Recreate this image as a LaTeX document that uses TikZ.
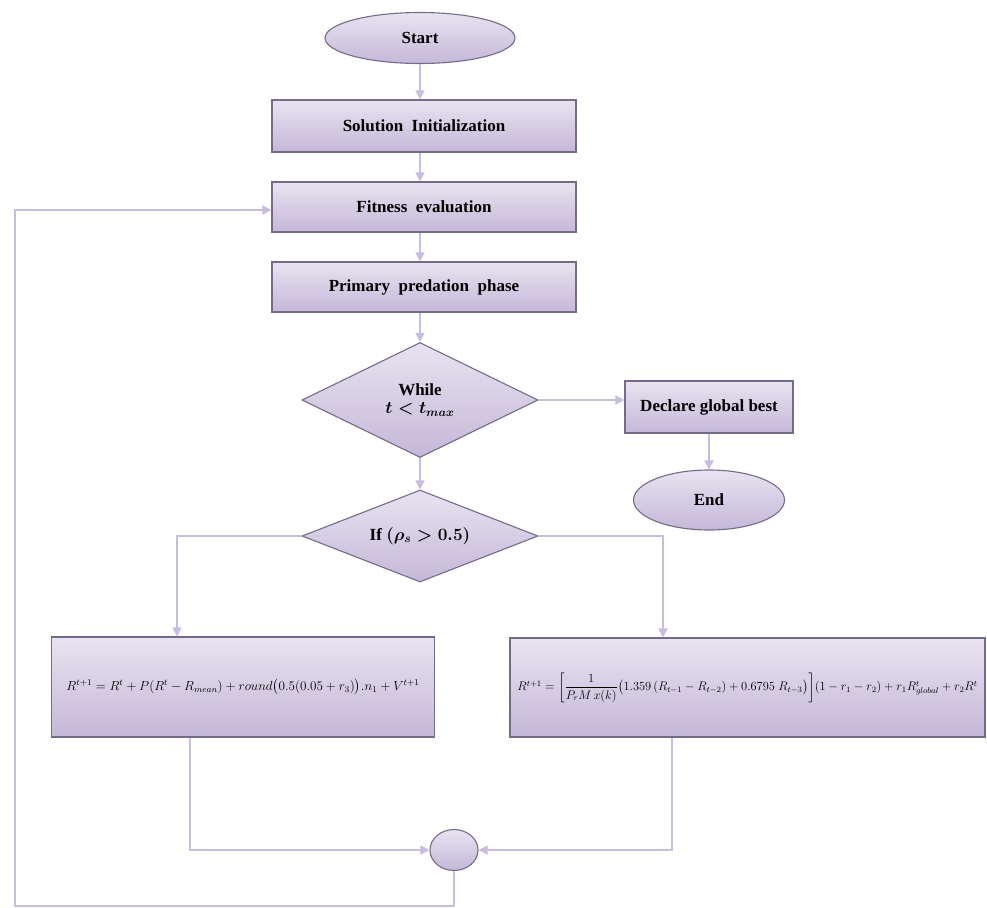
\documentclass[tikz,border=0pt]{standalone}
\usepackage{amsmath,amssymb}
\usepackage{fontspec}
\setmainfont{Liberation Serif}
\usepackage{tikz}
\usetikzlibrary{shapes.geometric,arrows.meta,positioning}
\definecolor{lavtop}{RGB}{232,227,240}
\definecolor{lavbot}{RGB}{196,184,216}
\definecolor{lavedge}{RGB}{118,106,138}
\definecolor{lavline}{RGB}{200,188,224}

\begin{document}
\begin{tikzpicture}[x=1pt,y=-1pt,
  shade/.style={top color=lavtop, bottom color=lavbot, draw=lavedge, line width=1.1pt},
  procbox/.style={shade, rectangle, inner sep=0pt, font=\fontsize{17}{20}\selectfont\bfseries},
  termnode/.style={shade, ellipse, inner sep=0pt, font=\fontsize{17}{20}\selectfont\bfseries},
  decide/.style={shade, diamond, inner sep=0pt, align=center, font=\fontsize{17}{20}\selectfont\bfseries\boldmath},
  mathbox/.style={procbox, font=\fontsize{12}{14}\selectfont},
  link/.style={draw=lavline, line width=1.6pt, -{Triangle[length=9pt,width=9pt]}}]
\useasboundingbox (0,0) rectangle (987,907);
\node[termnode, minimum width=190pt, minimum height=51pt] (start) at (420,38) {Start};
\node[procbox, minimum width=304pt, minimum height=52pt] (init) at (424,126) {Solution\ \ Initialization};
\node[procbox, minimum width=304pt, minimum height=50pt] (fit) at (424,207) {Fitness\ \ evaluation};
\node[procbox, minimum width=304pt, minimum height=50pt] (prim) at (424,287) {Primary\ \ predation\ \ phase};
\node[decide, aspect=2, minimum width=236pt, minimum height=115pt] (while) at (420,400) {While\\[-2pt] $t<t_{max}$};
\node[procbox, minimum width=168pt, minimum height=52pt] (decl) at (709,407) {Declare global best};
\node[termnode, minimum width=151pt, minimum height=60pt] (end) at (709,500) {End};
\node[decide, aspect=2.6, minimum width=236pt, minimum height=92pt] (if) at (420,536) {If $(\rho_{s}>0.5)$};
\node[mathbox, minimum width=383pt, minimum height=100pt] (leftf) at (243,687)
  {\resizebox{353pt}{!}{$R^{t+1}=R^{t}+P(R^{t}-R_{mean})+round\big(0.5(0.05+r_{3})\big).n_{1}+V^{t+1}$}};
\node[mathbox, minimum width=475pt, minimum height=99pt] (rightf) at (747.5,687.5)
  {\resizebox{460pt}{!}{$R^{t+1}=\left[\dfrac{1}{P_{r}M\,x(k)}\big(1.359\,(R_{t-1}-R_{t-2})+0.6795\;R_{t-3}\big)\right]\!(1-r_{1}-r_{2})+r_{1}R^{t}_{global}+r_{2}R^{t}$}};
\node[shade, ellipse, minimum width=48pt, minimum height=41pt, inner sep=0pt] (join) at (454,850) {};
\coordinate (loop) at (15,906);
\draw[link] (start.south) -- (start.south |- init.north);
\draw[link] (init.south -| start.south) -- (fit.north -| start.south);
\draw[link] (fit.south -| start.south) -- (prim.north -| start.south);
\draw[link] (prim.south -| start.south) -- (while.north);
\draw[link] (while.east) -- (while.east -| decl.west);
\draw[link] (decl.south) -- (end.north);
\draw[link] (while.south) -- (if.north);
\draw[link] (if.west) -| ([xshift=-66pt]leftf.north);
\draw[link] (if.east) -| ([xshift=-84.5pt]rightf.north);
\draw[link] ([xshift=-53pt]leftf.south) |- (join.west);
\draw[link] ([xshift=-75.5pt]rightf.south) |- (join.east);
\draw[link] (join.south) |- (loop) |- ([yshift=-3pt]fit.west);
\end{tikzpicture}
\end{document}
